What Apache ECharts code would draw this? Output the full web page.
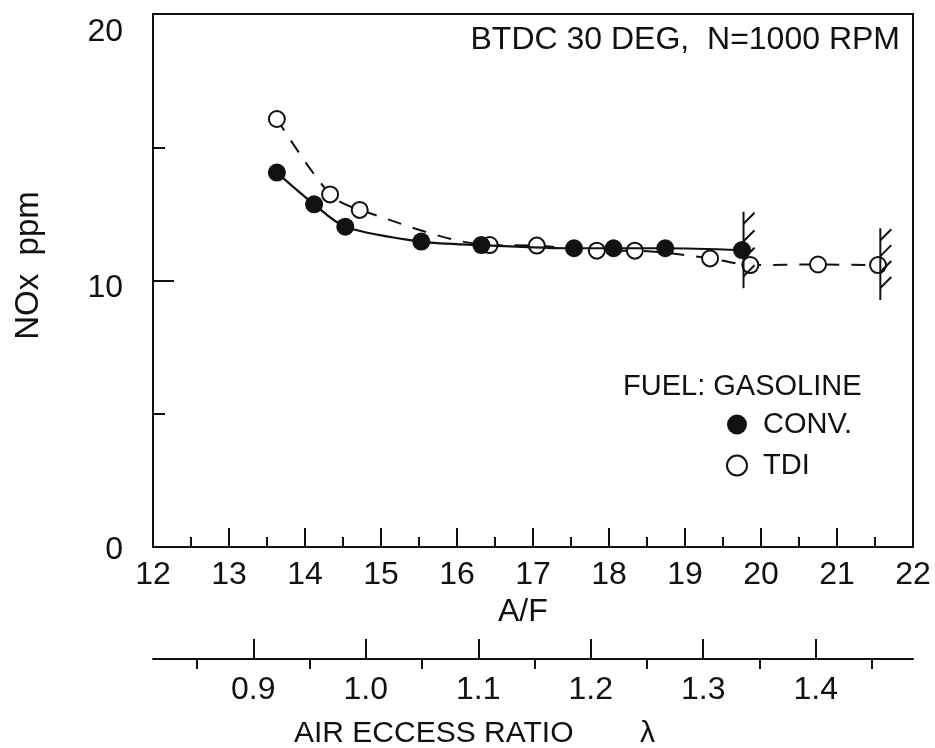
<!DOCTYPE html>
<html>
<head>
<meta charset="utf-8">
<script src="https://cdn.jsdelivr.net/npm/echarts@6/dist/echarts.min.js"></script>
<style>
  html, body { margin: 0; padding: 0; background: #fff; }
  #chart { width: 935px; height: 748px; }
</style>
</head>
<body>
<div id="chart"></div>
<script>
// A/F readings, NOx ppm
const convAF = [13.63, 14.12, 14.53, 15.53, 16.32, 17.54, 18.06, 18.74, 19.75];
const convNOx = [14.05, 12.86, 12.02, 11.46, 11.33, 11.21, 11.21, 11.21, 11.14];
const tdiAF = [13.63, 14.33, 14.72, 16.43, 17.05, 17.84, 18.34, 19.33, 19.86, 20.75, 21.54];
const tdiNOx = [16.06, 13.23, 12.65, 11.33, 11.31, 11.12, 11.12, 10.83, 10.58, 10.6, 10.58];
// lean limit marks: A/F, lower NOx, upper NOx
const limits = [[19.77, 9.71, 12.58], [21.57, 9.27, 11.96]];
const yLabels = [0, 10, 20];
const lambdaMajor = [0.9, 1.0, 1.1, 1.2, 1.3, 1.4];
const lambdaMinor = [0.85, 0.95, 1.05, 1.15, 1.25, 1.35, 1.45];
const stoich = 14.8;

const FONT = '"Liberation Sans", Arial, sans-serif';
const INK = '#111';

const chart = echarts.init(document.getElementById('chart'));

const pairs = (xs, ys) => xs.map((x, i) => [x, ys[i]]);

let option = {
  animation: false,
  backgroundColor: '#fff',
  textStyle: { fontFamily: FONT, color: INK },
  grid: [
    { left: 153, right: 22, top: 14, bottom: 201, show: true, borderColor: INK, borderWidth: 2 },
    { left: 153, right: 22, top: 658, height: 1 }
  ],
  xAxis: [
    {
      type: 'value', gridIndex: 0, min: 12, max: 22, interval: 1,
      axisLine: { lineStyle: { color: INK, width: 2 } },
      axisTick: { inside: true, length: 19, lineStyle: { color: INK, width: 2 } },
      minorTick: { show: true, splitNumber: 2, length: 10, lineStyle: { color: INK, width: 2 } },
      splitLine: { show: false },
      axisLabel: { fontSize: 32, color: INK, margin: 12, fontFamily: FONT }
    },
    {
      type: 'value', gridIndex: 1, min: 12 / stoich, max: 22 / stoich,
      axisLine: { lineStyle: { color: INK, width: 2 } },
      axisTick: { inside: true, length: 20, customValues: lambdaMajor, lineStyle: { color: INK, width: 2 } },
      splitLine: { show: false },
      axisLabel: {
        customValues: lambdaMajor, fontSize: 32, color: INK, margin: 15, fontFamily: FONT,
        formatter: v => v.toFixed(1)
      }
    },
    {
      type: 'value', gridIndex: 1, min: 12 / stoich, max: 22 / stoich,
      axisLine: { show: false },
      axisTick: { inside: true, length: 11, customValues: lambdaMinor, lineStyle: { color: INK, width: 2 } },
      splitLine: { show: false },
      axisLabel: { show: false }
    }
  ],
  yAxis: [
    {
      type: 'value', gridIndex: 0, min: 0, max: 20, interval: 10,
      name: 'NOx  ppm', nameLocation: 'middle', nameGap: 108, nameRotate: 90,
      nameTextStyle: { fontSize: 33, color: INK, fontFamily: FONT, padding: [0, 0, 0, 30] },
      axisLine: { lineStyle: { color: INK, width: 2 } },
      axisTick: { inside: true, length: 21, lineStyle: { color: INK, width: 2 } },
      minorTick: { show: true, splitNumber: 2, length: 12, lineStyle: { color: INK, width: 2 } },
      splitLine: { show: false },
      axisLabel: {
        margin: 30, fontSize: 32, color: INK, fontFamily: FONT,
        formatter: v => (v === yLabels[2] ? '{t|' + v + '}' : v === yLabels[1] ? '{m|' + v + '}' : '{b|' + v + '}'),
        rich: {
          t: { fontSize: 32, padding: [36, 0, 0, 0] },
          m: { fontSize: 32, padding: [16, 0, 0, 0] },
          b: { fontSize: 32, padding: [6, 0, 0, 0] }
        }
      }
    },
    { type: 'value', gridIndex: 1, show: false, min: 0, max: 1 }
  ],
  legend: {
    orient: 'vertical', left: 726, top: 410, padding: 0, icon: 'circle',
    itemWidth: 20, itemHeight: 20, itemGap: 12,
    textStyle: { fontSize: 29, color: INK, fontFamily: FONT, padding: [0, 0, 0, 11] },
    data: ['CONV.', 'TDI']
  },
  graphic: [
    { type: 'text', right: 35, top: 24, style: { text: 'BTDC 30 DEG,  N=1000 RPM', font: '32px ' + FONT, fill: INK } },
    { type: 'text', left: 623, top: 372, style: { text: 'FUEL: GASOLINE', font: '29px ' + FONT, fill: INK } },
    { type: 'text', left: 498, top: 596, style: { text: 'A/F', font: '32px ' + FONT, fill: INK } },
    { type: 'text', left: 294, top: 719, style: { text: 'AIR ECCESS RATIO', font: '30px ' + FONT, fill: INK } },
    { type: 'text', left: 640, top: 719, style: { text: 'λ', font: '30px ' + FONT, fill: INK } }
  ],
  series: [
    {
      name: 'TDI', type: 'line', xAxisIndex: 0, yAxisIndex: 0, z: 2,
      data: pairs(tdiAF, tdiNOx), smooth: 0.3,
      symbol: 'circle', symbolSize: 16,
      itemStyle: { color: '#fff', borderColor: INK, borderWidth: 2 },
      lineStyle: { color: INK, width: 2, type: [14, 12] }
    },
    {
      name: 'CONV.', type: 'line', xAxisIndex: 0, yAxisIndex: 0, z: 3,
      data: pairs(convAF, convNOx), smooth: 0.3,
      symbol: 'circle', symbolSize: 18,
      itemStyle: { color: INK },
      lineStyle: { color: INK, width: 2.2 }
    },
    {
      type: 'custom', xAxisIndex: 0, yAxisIndex: 0, z: 4,
      data: limits,
      renderItem: function (params, api) {
        const top = api.coord([api.value(0), api.value(2)]);
        const bot = api.coord([api.value(0), api.value(1)]);
        const style = { stroke: INK, lineWidth: 2 };
        const children = [{ type: 'line', shape: { x1: top[0], y1: top[1], x2: bot[0], y2: bot[1] }, style: style }];
        const y0 = top[1] + 12, y1 = bot[1] - 12;
        for (let k = 0; k < 4; k++) {
          const y = y0 + (y1 - y0) * k / 3;
          children.push({ type: 'line', shape: { x1: top[0], y1: y, x2: top[0] + 11, y2: y - 11 }, style: style });
        }
        return { type: 'group', children: children };
      }
    }
  ]
};

chart.setOption(option);
</script>
</body>
</html>
